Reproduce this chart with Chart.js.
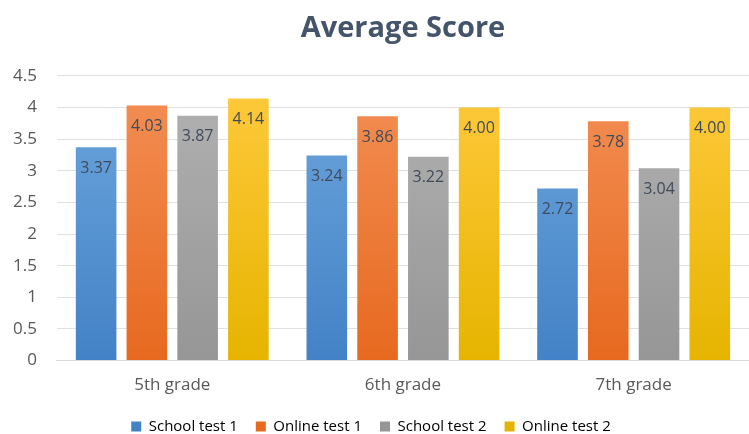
<!DOCTYPE html>
<html>
<head>
<meta charset="utf-8">
<script src="https://cdn.jsdelivr.net/npm/chart.js@4"></script>
<style>
  html, body { margin: 0; padding: 0; background: #fff; }
  #wrap { width: 749px; height: 434px; }
</style>
</head>
<body>
<div id="wrap"><canvas id="scoreChart"></canvas></div>
<script>
// data
const grades = ['5th grade', '6th grade', '7th grade'];
const schoolTest1 = [3.37, 3.24, 2.72];
const onlineTest1 = [4.03, 3.86, 3.78];
const schoolTest2 = [3.87, 3.22, 3.04];
const onlineTest2 = [4.14, 4.00, 4.00];
const seriesNames = ['School test 1', 'Online test 1', 'School test 2', 'Online test 2'];

// top / bottom colours of each bar gradient
const gradStops = [
  ['#6ea7de', '#4382c6'],
  ['#f39056', '#e7691f'],
  ['#b2b2b2', '#969696'],
  ['#ffca3e', '#e6b400']
];

function barFill(i) {
  return ctx => {
    const area = ctx.chart.chartArea;
    if (!area) return gradStops[i][1];
    const g = ctx.chart.ctx.createLinearGradient(0, area.top, 0, area.bottom);
    g.addColorStop(0, gradStops[i][0]);
    g.addColorStop(1, gradStops[i][1]);
    return g;
  };
}

// value labels just inside the top of each bar
const valueLabels = {
  id: 'valueLabels',
  afterDatasetsDraw(chart) {
    const c = chart.ctx;
    c.save();
    c.font = '16px "Open Sans", sans-serif';
    c.fillStyle = '#404b5a';
    c.textAlign = 'center';
    c.textBaseline = 'middle';
    chart.data.datasets.forEach((ds, i) => {
      chart.getDatasetMeta(i).data.forEach((bar, j) => {
        c.fillText(ds.data[j].toFixed(2), bar.x, bar.y + 21);
      });
    });
    c.restore();
  }
};

const allSeries = [schoolTest1, onlineTest1, schoolTest2, onlineTest2];

new Chart(document.getElementById('scoreChart'), {
  type: 'bar',
  data: {
    labels: grades,
    datasets: allSeries.map((vals, i) => ({
      label: seriesNames[i],
      data: vals,
      backgroundColor: barFill(i),
      borderWidth: 0,
      categoryPercentage: 0.88,
      barPercentage: 0.8
    }))
  },
  options: {
    responsive: true,
    maintainAspectRatio: false,
    animation: false,
    layout: { padding: { left: -7, right: 0, top: 0, bottom: -10 } },
    plugins: {
      title: {
        display: true,
        fullSize: false,
        text: 'Average Score',
        color: '#44546a',
        font: { family: 'Open Sans', size: 29, weight: 'bold' },
        padding: { top: 11, bottom: 30 }
      },
      legend: {
        position: 'bottom',
        labels: {
          color: '#595959',
          font: { family: 'Open Sans', size: 15 },
          boxWidth: 10,
          boxHeight: 10,
          padding: 18,
          generateLabels: chart => chart.data.datasets.map((ds, i) => ({
            text: ds.label,
            fillStyle: gradStops[i][1],
            strokeStyle: gradStops[i][1],
            lineWidth: 0,
            datasetIndex: i
          }))
        }
      },
      tooltip: { enabled: false }
    },
    scales: {
      x: {
        grid: { display: false },
        border: { color: '#d9d9d9' },
        ticks: { color: '#595959', font: { family: 'Open Sans', size: 17 }, padding: 6 }
      },
      y: {
        min: 0,
        max: 4.5,
        ticks: {
          stepSize: 0.5,
          color: '#595959',
          font: { family: 'Open Sans', size: 17 },
          padding: 20,
          callback: v => String(v)
        },
        grid: { color: '#e0e0e0', drawTicks: false },
        border: { display: false }
      }
    }
  },
  plugins: [valueLabels]
});
</script>
</body>
</html>
